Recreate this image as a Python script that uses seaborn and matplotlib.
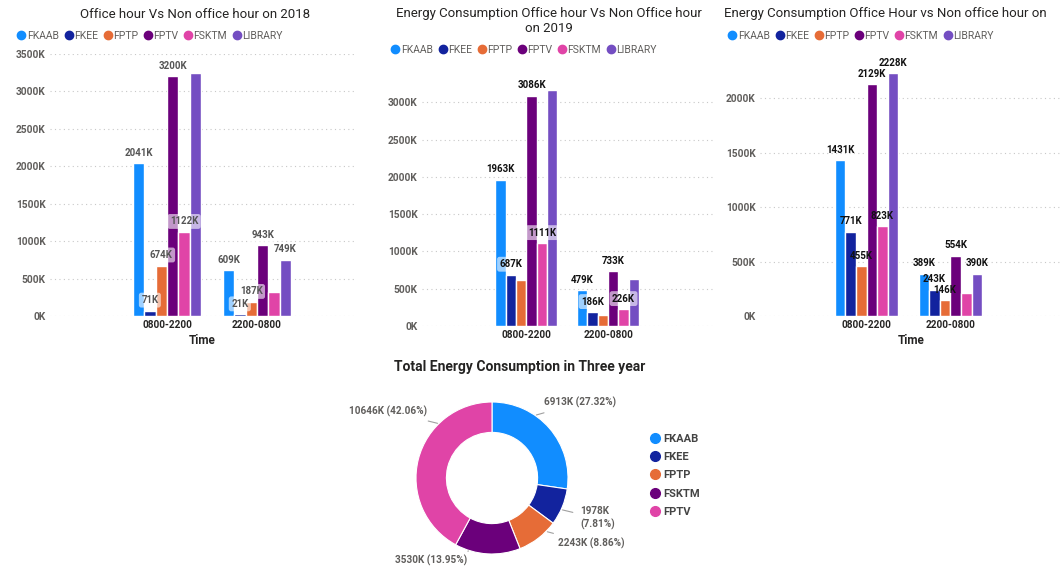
import numpy as np
import pandas as pd
import matplotlib.pyplot as plt
import seaborn as sns
from matplotlib.lines import Line2D

faculties = ['FKAAB', 'FKEE', 'FPTP', 'FPTV', 'FSKTM', 'LIBRARY']
times = ['0800-2200', '2200-0800']

# energy in K (unlabelled bars estimated)
office_2018 = [2041, 71, 674, 3200, 1122, 3240]
night_2018 = [609, 21, 187, 943, 320, 749]
office_2019 = [1963, 687, 620, 3086, 1111, 3170]
night_2019 = [479, 186, 150, 733, 226, 630]
office_2020 = [1431, 771, 455, 2129, 823, 2228]
night_2020 = [389, 243, 146, 554, 210, 390]

# data labels power bi hid
hidden_2018 = [('LIBRARY', '0800-2200'), ('FSKTM', '2200-0800')]
hidden_2019 = [('FPTP', '0800-2200'), ('LIBRARY', '0800-2200'),
               ('FPTP', '2200-0800'), ('LIBRARY', '2200-0800')]
hidden_2020 = [('FSKTM', '2200-0800')]

pie_names = ['FKAAB', 'FKEE', 'FPTP', 'FSKTM', 'FPTV']
pie_values = [6913, 1978, 2243, 3530, 10646]
pie_pct = ['27.32%', '7.81%', '8.86%', '13.95%', '42.06%']

colors = {'FKAAB': '#118DFF', 'FKEE': '#12239E', 'FPTP': '#E66C37',
          'FPTV': '#6B007B', 'FSKTM': '#E044A7', 'LIBRARY': '#744EC2'}
pie_colors = {'FKAAB': '#118DFF', 'FKEE': '#12239E', 'FPTP': '#E66C37',
              'FSKTM': '#6B007B', 'FPTV': '#E044A7'}

sns.set_style('white')
plt.rcParams['font.family'] = ['Roboto', 'DejaVu Sans']

W, H = 1062, 570
fig = plt.figure(figsize=(W / 100, H / 100), dpi=100)


def px_axes(left, right, top, bottom):
    return fig.add_axes([left / W, 1 - bottom / H, (right - left) / W, (bottom - top) / H])


def style_yticks(ax, top):
    ticks = np.arange(0, top + 1, 500)
    ax.set_yticks(ticks)
    ax.set_yticklabels([f'{v}K' for v in ticks], fontsize=7.3, fontweight='bold', color='#605E5C')


def draw_bars(ax, office, night, hidden, ymax, ytop, xlim, label_color, box, xlabel):
    df = pd.DataFrame({'Time': np.repeat(times, len(faculties)),
                       'Faculty': faculties * 2,
                       'Energy': office + night})
    sns.barplot(data=df, x='Time', y='Energy', hue='Faculty', hue_order=faculties,
                palette=colors, width=0.76, gap=0, saturation=1, ax=ax, legend=False)
    for fac, cont in zip(faculties, ax.containers):
        for t, bar in zip(times, cont):
            if (fac, t) in hidden:
                continue
            h = bar.get_height()
            kw = {}
            if box:
                kw['bbox'] = dict(boxstyle='round,pad=0.25', fc='white', ec='none', alpha=0.6)
            ax.annotate(f'{h:.0f}K', (bar.get_x() + bar.get_width() / 2, h),
                        xytext=(0, 4), textcoords='offset points', ha='center', va='bottom',
                        fontsize=7, fontweight='bold', color=label_color, **kw)
    ax.set_ylim(0, ymax)
    ax.set_xlim(*xlim)
    style_yticks(ax, ytop)
    ax.tick_params(length=0, pad=3)
    for lab in ax.get_xticklabels():
        lab.set_fontsize(7.2)
        lab.set_fontweight('bold')
        lab.set_color('#252423')
    ax.yaxis.grid(True, linestyle=(0, (1, 3)), color='#C8C8C8', linewidth=0.8)
    ax.set_axisbelow(True)
    sns.despine(ax=ax, left=True, bottom=True)
    ax.set_ylabel('')
    if xlabel:
        ax.set_xlabel('Time', fontsize=8.5, fontweight='bold', color='#252423', labelpad=3)
    else:
        ax.set_xlabel('')


def bar_legend(x, y):
    handles = [Line2D([], [], marker='o', ls='', color=colors[f], markersize=6) for f in faculties]
    fig.legend(handles, faculties, loc='center left', bbox_to_anchor=(x / W, 1 - y / H),
               ncol=6, frameon=False, handletextpad=-0.1, columnspacing=0.35,
               borderpad=0, handlelength=1.2, prop={'size': 7.5}, labelcolor='#605E5C')


ax1 = px_axes(50, 355, 54, 316)
draw_bars(ax1, office_2018, night_2018, hidden_2018, 3500, 3500, (-1.30, 2.09), '#555555', True, True)
fig.text(195 / W, 1 - 14 / H, 'Office hour Vs Non office hour on 2018', ha='center', va='center',
         fontsize=9.5, color='#252423')
bar_legend(10, 36)

ax2 = px_axes(422, 715, 80, 326)
draw_bars(ax2, office_2019, night_2019, hidden_2019, 3300, 3000, (-1.28, 2.31), '#111111', True, False)
fig.text(549 / W, 1 - 21 / H, 'Energy Consumption Office hour Vs Non Office hour\non 2019',
         ha='center', va='center', fontsize=9.5, color='#252423', linespacing=1.1)
bar_legend(384, 50)

ax3 = px_axes(760, 1062, 60, 316)
draw_bars(ax3, office_2020, night_2020, hidden_2020, 2350, 2000, (-1.27, 2.33), '#111111', False, True)
fig.text(724 / W, 1 - 14 / H, 'Energy Consumption Office Hour vs Non office hour on',
         ha='left', va='center', fontsize=9.5, color='#252423')
bar_legend(721, 36)

# donut
axp = px_axes(412, 572, 398, 558)
wedges, _ = axp.pie(pie_values, colors=[pie_colors[n] for n in pie_names], startangle=90,
                    counterclock=False, wedgeprops=dict(width=0.4, edgecolor='white', linewidth=0.8))
lim = 80 / 76
axp.set_xlim(-lim, lim)
axp.set_ylim(-lim, lim)
axp.set_aspect('equal')

label_pos = [(0.68, 0.99), (1.16, -0.53), (0.87, -0.86), (-0.33, -1.08), (-0.86, 0.88)]
label_ha = ['left', 'left', 'left', 'right', 'right']
for w, n, v, p, pos, ha in zip(wedges, pie_names, pie_values, pie_pct, label_pos, label_ha):
    ang = np.arctan2(pos[1], pos[0])
    edge = (np.cos(ang), np.sin(ang))
    txt = f'{v}K\n({p})' if n == 'FKEE' else f'{v}K ({p})'
    axp.annotate(txt, edge, xytext=pos, ha=ha, va='center', fontsize=7.2, fontweight='bold',
                 color='#605E5C', linespacing=1.3,
                 arrowprops=dict(arrowstyle='-', color='#A0A0A0', lw=0.8, shrinkA=3, shrinkB=1))

fig.text(520 / W, 1 - 367 / H, 'Total Energy Consumption in Three year', ha='center', va='center',
         fontsize=10, fontweight='bold', color='#252423')
pie_handles = [Line2D([], [], marker='o', ls='', color=pie_colors[n], markersize=7) for n in pie_names]
fig.legend(pie_handles, pie_names, loc='upper left', bbox_to_anchor=(643 / W, 1 - 428 / H),
           frameon=False, handletextpad=0.1, handlelength=1.2, labelspacing=0.75,
           borderpad=0, prop={'size': 8, 'weight': 'bold'}, labelcolor='#444444')

fig.savefig('out.png', dpi=100)
